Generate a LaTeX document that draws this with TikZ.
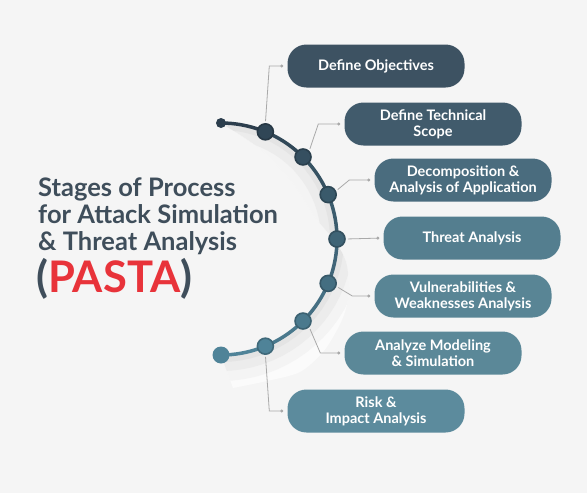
\documentclass[tikz,border=0pt]{standalone}
\usepackage{fontspec}
\setmainfont{Lato}
\usetikzlibrary{arrows.meta}
\definecolor{bggrey}{HTML}{F5F5F5}
\definecolor{titlegrey}{HTML}{3F4E5B}
\definecolor{pastared}{HTML}{E8333A}
\definecolor{stage1}{HTML}{3D5262}
\definecolor{stage2}{HTML}{415B6C}
\definecolor{stage3}{HTML}{4A6C7E}
\definecolor{stage4}{HTML}{547E8F}
\definecolor{stage5}{HTML}{598595}
\definecolor{stage6}{HTML}{5B8898}
\definecolor{stage7}{HTML}{5C8B9D}
\definecolor{arcdark}{HTML}{2C3E4D}
\definecolor{arclight}{HTML}{4F8398}
\definecolor{linkgrey}{HTML}{A9A9A9}
\tikzset{
  stage/.style={rounded corners=19pt, minimum width=177pt, minimum height=43pt,
    inner sep=0pt, text=white, align=center,
    font=\fontsize{14.5}{16}\selectfont\bfseries},
  knot/.style={circle, minimum size=16pt, inner sep=0pt, line width=1.6pt},
  link/.style={draw=linkgrey, line width=0.8pt, -{Circle[length=3pt]},
    shorten <=2pt, shorten >=4pt},
  headline/.style={anchor=base west, inner sep=0pt, text=titlegrey,
    font=\fontsize{25.5}{27}\selectfont\bfseries}
}
\begin{document}
\begin{tikzpicture}[x=1pt, y=-1pt]
  \fill[bggrey] (0,0) rectangle (587,493);
  \useasboundingbox (0,0) rectangle (587,493);
  \coordinate (hub) at (221,239);
  % glow band under the arc
  \path[save path=\bandpath]
    plot[domain=-90:90, samples=40, variable=\t] ({221+116*cos(\t)},{239+116*sin(\t)})
    -- plot[smooth] coordinates {(233,388) (267,381) (300,372) (323,352) (337,330)
      (345,312) (349,290) (346,262) (334,240) (315,217) (293,183) (265,153)
      (245,138) (221,123)}
    -- cycle;
  \begin{scope}
    \clip[use path=\bandpath];
    \fill[gray!3] (150,100) rectangle (400,400);
    \draw[gray!9, line width=52pt]
      plot[domain=-90:90, samples=40, variable=\t] ({221+116*cos(\t)},{239+116*sin(\t)});
    \draw[gray!15, line width=32pt]
      plot[domain=-90:90, samples=40, variable=\t] ({221+116*cos(\t)},{239+116*sin(\t)});
    \draw[gray!21, line width=14pt]
      plot[domain=-90:90, samples=40, variable=\t] ({221+116*cos(\t)},{239+116*sin(\t)});
  \end{scope}
  % the arc, dark at the top and teal at the bottom
  \foreach \k in {0,...,7}{
    \pgfmathsetmacro\mix{\k*100/7}
    \draw[arclight!\mix!arcdark, line width=3.5pt, line cap=round]
      plot[domain={-90+22.5*\k}:{-67.5+22.5*\k}, samples=10, variable=\t]
      ({221+116*cos(\t)},{239+116*sin(\t)});
  }
  \node[circle, minimum size=10pt, inner sep=0pt, fill=arcdark] (top) at ([shift={(-90:116)}]hub) {};
  \node[circle, minimum size=17pt, inner sep=0pt, fill=arclight] (bottom) at ([shift={(90:116)}]hub) {};
  \node[knot, fill=arclight!12!arcdark, draw=arclight!12!arcdark!80!black] (d1) at ([shift={(-67.5:116)}]hub) {};
  \node[knot, fill=arclight!25!arcdark, draw=arclight!25!arcdark!80!black] (d2) at ([shift={(-45:116)}]hub) {};
  \node[knot, fill=arclight!40!arcdark, draw=arclight!40!arcdark!80!black] (d3) at ([shift={(-22.5:116)}]hub) {};
  \node[knot, fill=arclight!55!arcdark, draw=arclight!55!arcdark!80!black] (d4) at ([shift={(0:116)}]hub) {};
  \node[knot, fill=arclight!70!arcdark, draw=arclight!70!arcdark!80!black] (d5) at ([shift={(22.5:116)}]hub) {};
  \node[knot, fill=arclight!85!arcdark, draw=arclight!85!arcdark!80!black] (d6) at ([shift={(45:116)}]hub) {};
  \node[knot, fill=arclight, draw=arclight!80!black] (d7) at ([shift={(67.5:116)}]hub) {};
  % stages
  \node[stage, fill=stage1] (b1) at (376,66) {Define Objectives};
  \node[stage, fill=stage2] (b2) at (433,124) {Define Technical\\Scope};
  \node[stage, fill=stage3] (b3) at (463,180) {Decomposition \&\\Analysis of Application};
  \node[stage, fill=stage4] (b4) at (472,238) {Threat Analysis};
  \node[stage, fill=stage5] (b5) at (463,296) {Vulnerabilities \&\\Weaknesses Analysis};
  \node[stage, fill=stage6] (b6) at (433,353) {Analyze Modeling\\\& Simulation};
  \node[stage, fill=stage7] (b7) at (376,411) {Risk \&\\Impact Analysis};
  % links
  \draw[link] (d1.north) -- ([xshift=-18pt]b1.west) -- (b1.west);
  \draw[link] (d2.45) -- ([xshift=-26pt]b2.west) -- (b2.west);
  \draw[link] (d3.25) -- ([xshift=-25pt]b3.west) -- (b3.west);
  \draw[link] (d4.east) -- (b4.west);
  \draw[link] (d5.-20) -- ([xshift=-22pt]b5.west) -- (b5.west);
  \draw[link] (d6.-45) -- ([xshift=-24pt]b6.west) -- (b6.west);
  \draw[link] (d7.south) -- ([xshift=-18pt]b7.west) -- (b7.west);
  % title
  \node[headline] (t1) at (38,196) {Stages of Process};
  \node[headline] (t2) at (38,223) {for Attack Simulation};
  \node[headline] (t3) at (38,250) {\& Threat Analysis};
  \node[headline, font=\fontsize{43.5}{45}\selectfont\bfseries] (t4) at (36,292) {(\textcolor{pastared}{PASTA})};
\end{tikzpicture}
\end{document}
